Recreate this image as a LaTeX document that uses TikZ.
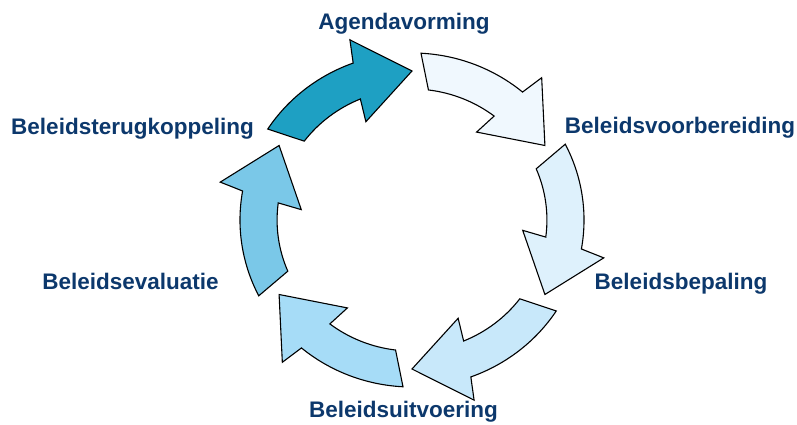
\documentclass[tikz,border=0pt]{standalone}
\usepackage{fontspec}
\setmainfont{Liberation Sans}
\definecolor{navytext}{RGB}{12,56,108}
\definecolor{stepA}{RGB}{30,160,195}
\definecolor{stepB}{RGB}{240,248,254}
\definecolor{stepC}{RGB}{222,241,252}
\definecolor{stepD}{RGB}{200,232,250}
\definecolor{stepE}{RGB}{166,220,247}
\definecolor{stepF}{RGB}{122,200,232}

\begin{document}
\begin{tikzpicture}[
   x = 1pt, y = 1pt,
   label/.style = {anchor=base, text=navytext,
      font=\bfseries\fontsize{22.5}{27}\selectfont},
   bend arrow/.style = {draw=black, line width=1.1pt, line join=miter},
]
   \useasboundingbox (0,0) rectangle (797,425);
   % curved arrows, tip angle / fill
   \begin{scope}[shift={(412,205)}, xscale=1.03]
      \foreach \t/\c in {90/stepA, 30/stepB, -30/stepC,
                         -90/stepD, 210/stepE, 150/stepF}
         \draw [bend arrow, fill=\c]
            ({\t+57}:167) arc [start angle={\t+57}, end angle={\t+20}, radius=167]
            -- ({\t+18.5}:190) -- (\t:149) -- ({\t+24.5}:108)
            -- ({\t+22.5}:131) arc [start angle={\t+22.5}, end angle={\t+53}, radius=131]
            -- cycle;
   \end{scope}
   % labels
   \node [label] (agenda)   at (404,395)   {Agendavorming};
   \node [label] (voorber)  at (680,291)   {Beleidsvoorbereiding};
   \node [label] (bepaling) at (681,135)   {Beleidsbepaling};
   \node [label] (uitvoer)  at (403.5,7)   {Beleidsuitvoering};
   \node [label] (evaluat)  at (130.5,135) {Beleidsevaluatie};
   \node [label] (terug)    at (132.5,290) {Beleidsterugkoppeling};
\end{tikzpicture}
\end{document}
